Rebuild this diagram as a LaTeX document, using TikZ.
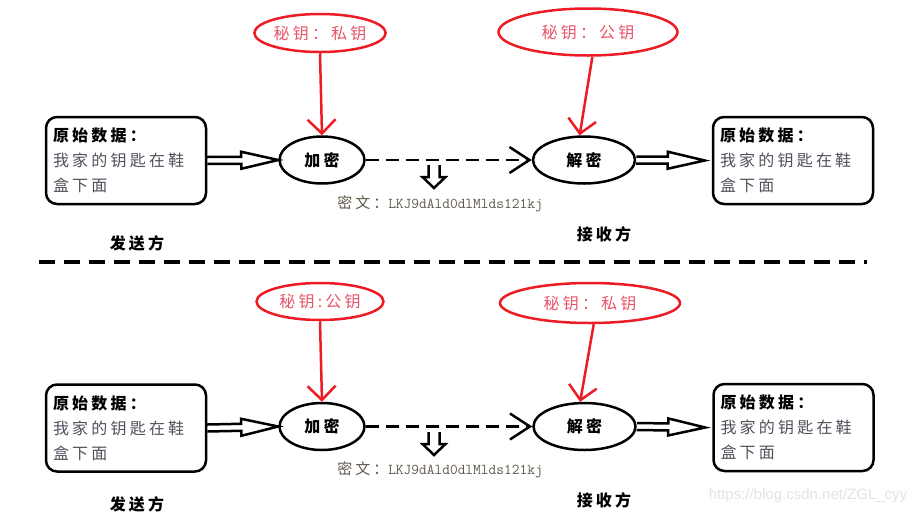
\documentclass[tikz,border=0pt]{standalone}
\usepackage{fontspec}
\setmainfont{Noto Sans CJK SC}[LetterSpace=20]
\newfontfamily\wmfont{Liberation Sans}
\usetikzlibrary{shapes.geometric,arrows.meta,calc}
\definecolor{keyred}{RGB}{237,28,36}
\definecolor{keytext}{RGB}{232,84,104}
\definecolor{plaintext}{RGB}{80,80,92}
\definecolor{ciphertext}{RGB}{95,88,75}
\begin{document}
\begin{tikzpicture}[
        x=1pt,
        y=-1pt,
        every node/.style={font=\fontsize{16pt}{25pt}\selectfont},
        databox/.style={draw, line width=2.5pt, rounded corners=11pt,
          minimum width=160pt, minimum height=87pt, text width=146pt,
          inner xsep=7pt, align=left, text=plaintext},
        keybox/.style={ellipse, draw=keyred, line width=2.5pt, text=keytext, inner sep=0pt},
        cryptbox/.style={ellipse, draw, line width=2.5pt, inner sep=0pt,
          minimum height=47pt, font=\fontsize{16pt}{20pt}\selectfont\bfseries},
        keyarrow/.style={keyred, line width=2.5pt, -{Straight Barb[length=14pt, width=28pt]}},
        sendarrow/.style={line width=2.5pt, dash pattern=on 13pt off 7pt,
          -{Straight Barb[length=20pt, width=26pt]}},
        hollow/.style={line width=2.5pt, line join=miter},
        sepline/.style={line width=3.5pt, dash pattern=on 16pt off 9pt},
        side/.style={font=\fontsize{16pt}{20pt}\selectfont\bfseries},
        cipher/.style={text=ciphertext, font=\fontsize{15pt}{18pt}\selectfont},
        wmark/.style={text=gray!22, font=\fontsize{15pt}{18pt}\wmfont}
      ]

      % --- 0. 画布范围 ---
      \path[use as bounding box] (0,0) rectangle (922,515);
      \clip (0,0) rectangle (922,515);

      % --- 1. 空心箭头宏：起点, 终点, 杆半宽, 头长, 头半宽 ---
      \def\HollowArrow#1#2#3#4#5{
        \draw[hollow] ($(#1)!#3!90:(#2)$)
          -- ($(#2)!#4!(#1)!#3!90:(#2)$)
          -- ($(#2)!#4!(#1)!#5!90:(#2)$)
          -- (#2)
          -- ($(#2)!#4!(#1)!#5!-90:(#2)$)
          -- ($(#2)!#4!(#1)!#3!-90:(#2)$)
          -- ($(#1)!#3!-90:(#2)$);
      }

      % --- 2. 上半部分：私钥加密，公钥解密 ---
      \node[databox] (src) at (126,160.5)
        {\textcolor{black}{\bfseries 原始数据：}\\我家的钥匙在鞋\\盒下面};
      \node[keybox, minimum width=127pt, minimum height=38pt] (keyA) at (320,33) {秘钥：私钥};
      \node[cryptbox, minimum width=85pt] (enc) at (322,160) {加密};
      \node[cryptbox, minimum width=102pt] (dec) at (584,160) {解密};
      \node[keybox, minimum width=179pt, minimum height=47pt] (keyB) at (588,32) {秘钥：公钥};
      \node[databox] (dst) at (793,160.5)
        {\textcolor{black}{\bfseries 原始数据：}\\我家的钥匙在鞋\\盒下面};
      \node[cipher] (cipher) at (440,204) {密文：\ttfamily LKJ9dAld0dlMlds121kj};
      \node[side] (sender) at (137,243) {发送方};
      \node[side] (receiver) at (604,234) {接收方};

      \coordinate (drop) at (434,165);
      \coordinate (dropTip) at (434,188);
      \coordinate (dstTip) at ($(dst.west)+(-7,0)$);

      \draw[keyarrow] (keyA.south) -- (enc.north);
      \draw[keyarrow] (keyB.-80) -- (dec.100);
      \draw[sendarrow] (enc.east) -- (dec.west);
      \HollowArrow{src.east}{enc.west}{3.5pt}{37pt}{8.5pt}
      \HollowArrow{dec.east}{dstTip}{3.5pt}{37pt}{8.5pt}
      \HollowArrow{drop}{dropTip}{5.5pt}{11pt}{11.5pt}

      % --- 3. 分隔虚线 ---
      \coordinate (sepL) at (39,262);
      \coordinate (sepR) at (867,262);
      \draw[sepline] (sepL) -- (sepR);

      % --- 4. 下半部分：公钥加密，私钥解密 ---
      \node[databox] (src2) at (126,428)
        {\textcolor{black}{\bfseries 原始数据：}\\我家的钥匙在鞋\\盒下面};
      \node[keybox, minimum width=127pt, minimum height=37pt] (keyA2) at (320,301.5) {秘钥:公钥};
      \node[cryptbox, minimum width=85pt] (enc2) at (322,426.5) {加密};
      \node[cryptbox, minimum width=102pt] (dec2) at (584.5,426.5) {解密};
      \node[keybox, minimum width=180pt, minimum height=40pt] (keyB2) at (590,303) {秘钥：私钥};
      \node[databox] (dst2) at (793.5,427.5)
        {\textcolor{black}{\bfseries 原始数据：}\\我家的钥匙在鞋\\盒下面};
      \node[cipher] (cipher2) at (440,470) {密文：\ttfamily LKJ9dAld0dlMlds121kj};
      \node[side] (sender2) at (137,504) {发送方};
      \node[side] (receiver2) at (604,500) {接收方};

      \coordinate (drop2) at (434,432);
      \coordinate (dropTip2) at (434,455);
      \coordinate (dstTip2) at ($(dst2.west)+(-7,0)$);

      \draw[keyarrow] (keyA2.south) -- (enc2.north);
      \draw[keyarrow] (keyB2.-80) -- (dec2.100);
      \draw[sendarrow] (enc2.east) -- (dec2.west);
      \HollowArrow{src2.east}{enc2.west}{3.5pt}{37pt}{8.5pt}
      \HollowArrow{dec2.east}{dstTip2}{3.5pt}{37pt}{8.5pt}
      \HollowArrow{drop2}{dropTip2}{5.5pt}{11pt}{11.5pt}

      % 水印
      \node[wmark] (wm) at (808,496) {https://blog.csdn.net/ZGL\_cyy};

    \end{tikzpicture}
\end{document}
